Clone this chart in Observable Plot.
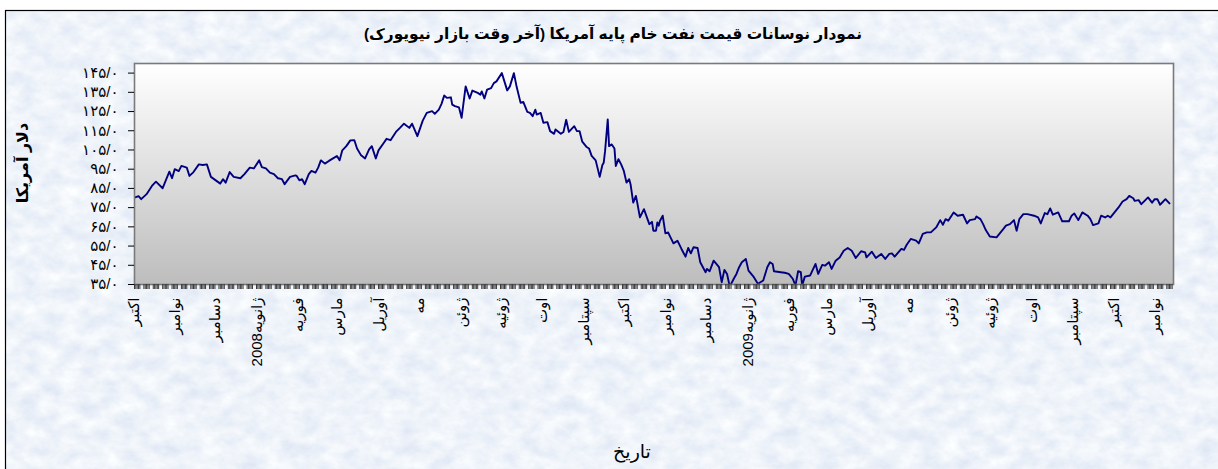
<!DOCTYPE html>
<html lang="fa">
<head>
<meta charset="utf-8">
<script src="https://cdn.jsdelivr.net/npm/d3@7"></script>
<script src="https://cdn.jsdelivr.net/npm/@observablehq/plot@0.6"></script>
<style>
  html, body { margin: 0; padding: 0; background: #fff; }
  #chart { position: relative; width: 1218px; height: 469px; overflow: hidden; background: #fff; }
  #chart > svg { position: absolute; left: 0; top: 0; }
  .txt { position: absolute; font-family: "Liberation Sans", "DejaVu Sans", sans-serif; color: #000; white-space: nowrap; direction: rtl; }
</style>
</head>
<body>
<div id="chart"></div>
<script>
// ---------- data ----------
const titleText = "نمودار نوسانات قیمت نفت خام پایه آمریکا (آخر وقت بازار نیویورک)";
const yTitle = "دلار آمریکا";
const xTitle = "تاریخ";

const yTicks = [35, 45, 55, 65, 75, 85, 95, 105, 115, 125, 135, 145];
const yTickLabels = ["۳۵/۰", "۴۵/۰", "۵۵/۰", "۶۵/۰", "۷۵/۰", "۸۵/۰", "۹۵/۰", "۱۰۵/۰", "۱۱۵/۰", "۱۲۵/۰", "۱۳۵/۰", "۱۴۵/۰"];

const monthDates = ["2007-10-01","2007-11-01","2007-12-01","2008-01-01","2008-02-01","2008-03-01","2008-04-01","2008-05-01","2008-06-01","2008-07-01","2008-08-01","2008-09-01","2008-10-01","2008-11-01","2008-12-01","2009-01-01","2009-02-01","2009-03-01","2009-04-01","2009-05-01","2009-06-01","2009-07-01","2009-08-01","2009-09-01","2009-10-01","2009-11-01"];
const monthLabels = ["اکتبر","نوامبر","دسامبر","ژانویه2008","فوریه","مارس","آوریل","مه","ژوئن","ژوئیه","اوت","سپتامبر","اکتبر","نوامبر","دسامبر","ژانویه2009","فوریه","مارس","آوریل","مه","ژوئن","ژوئیه","اوت","سپتامبر","اکتبر","نوامبر"];

const dates = ["2007-10-01","2007-10-04","2007-10-06","2007-10-10","2007-10-14","2007-10-17","2007-10-22","2007-10-27","2007-10-29","2007-10-31",
"2007-11-03","2007-11-05","2007-11-09","2007-11-11","2007-11-14","2007-11-18","2007-11-21","2007-11-24","2007-11-27",
"2007-12-04","2007-12-06","2007-12-08","2007-12-11","2007-12-14","2007-12-19","2007-12-22","2007-12-26","2007-12-29",
"2008-01-02","2008-01-04","2008-01-07","2008-01-10","2008-01-13","2008-01-16","2008-01-19","2008-01-21","2008-01-25","2008-01-29","2008-01-30",
"2008-02-01","2008-02-03","2008-02-05","2008-02-08","2008-02-10","2008-02-13","2008-02-15","2008-02-17","2008-02-20","2008-02-23","2008-02-27","2008-02-29",
"2008-03-02","2008-03-04","2008-03-07","2008-03-10","2008-03-13","2008-03-15","2008-03-18","2008-03-21","2008-03-24","2008-03-26","2008-03-29","2008-03-31",
"2008-04-04","2008-04-06","2008-04-09","2008-04-13","2008-04-16","2008-04-19","2008-04-23","2008-04-25","2008-04-29",
"2008-05-03","2008-05-06","2008-05-10","2008-05-12","2008-05-15","2008-05-17","2008-05-19","2008-05-21","2008-05-24","2008-05-25","2008-05-27","2008-05-30",
"2008-06-01","2008-06-04","2008-06-07","2008-06-09","2008-06-13","2008-06-15","2008-06-16","2008-06-18","2008-06-20","2008-06-23","2008-06-25","2008-06-27",
"2008-07-01","2008-07-05","2008-07-07","2008-07-10","2008-07-12","2008-07-15","2008-07-17","2008-07-20","2008-07-22","2008-07-24","2008-07-26","2008-07-27","2008-07-30",
"2008-08-01","2008-08-04","2008-08-06","2008-08-09","2008-08-10","2008-08-14","2008-08-16","2008-08-18","2008-08-20","2008-08-24","2008-08-26","2008-08-28","2008-08-30",
"2008-09-02","2008-09-04","2008-09-06","2008-09-09","2008-09-12","2008-09-14","2008-09-15","2008-09-16","2008-09-18","2008-09-19","2008-09-21","2008-09-23","2008-09-24","2008-09-26","2008-09-28","2008-09-30",
"2008-10-02","2008-10-04","2008-10-05","2008-10-07","2008-10-09","2008-10-10","2008-10-12","2008-10-15","2008-10-19","2008-10-21","2008-10-22","2008-10-24","2008-10-25","2008-10-26","2008-10-27","2008-10-29","2008-10-31",
"2008-11-02","2008-11-06","2008-11-09","2008-11-12","2008-11-15","2008-11-17","2008-11-19","2008-11-21","2008-11-24","2008-11-26","2008-11-30",
"2008-12-01","2008-12-03","2008-12-06","2008-12-10","2008-12-12","2008-12-14","2008-12-16","2008-12-18","2008-12-21","2008-12-23","2008-12-25","2008-12-27","2008-12-30",
"2009-01-01","2009-01-05","2009-01-08","2009-01-12","2009-01-15","2009-01-17","2009-01-19","2009-01-20","2009-01-25","2009-01-28","2009-01-31",
"2009-02-03","2009-02-05","2009-02-07","2009-02-09","2009-02-10","2009-02-12","2009-02-16","2009-02-20","2009-02-22","2009-02-25","2009-02-27",
"2009-03-02","2009-03-04","2009-03-07","2009-03-10","2009-03-13","2009-03-16","2009-03-19","2009-03-22","2009-03-26","2009-03-29","2009-03-30",
"2009-04-03","2009-04-06","2009-04-10","2009-04-13","2009-04-16","2009-04-18","2009-04-20","2009-04-25","2009-04-27","2009-04-29",
"2009-05-02","2009-05-06","2009-05-08","2009-05-11","2009-05-14","2009-05-17","2009-05-21","2009-05-24","2009-05-26","2009-05-28","2009-05-30",
"2009-06-03","2009-06-06","2009-06-10","2009-06-13","2009-06-15","2009-06-19","2009-06-20","2009-06-23","2009-06-25","2009-06-27","2009-06-30",
"2009-07-05","2009-07-10","2009-07-12","2009-07-15","2009-07-18","2009-07-20","2009-07-22","2009-07-25","2009-07-28",
"2009-08-02","2009-08-05","2009-08-07","2009-08-10","2009-08-12","2009-08-14","2009-08-16","2009-08-20","2009-08-23","2009-08-28","2009-08-30",
"2009-09-01","2009-09-04","2009-09-07","2009-09-11","2009-09-13","2009-09-15","2009-09-19","2009-09-21","2009-09-24","2009-09-26","2009-09-28",
"2009-10-01","2009-10-04","2009-10-07","2009-10-10","2009-10-12","2009-10-15","2009-10-16","2009-10-19","2009-10-21","2009-10-24","2009-10-26","2009-10-29","2009-10-31",
"2009-11-02","2009-11-04","2009-11-08","2009-11-11"];

const prices = [80.2,81,79.4,82,86.3,88.5,85.1,93.7,90.3,95,
94,96.7,95.8,91.5,93.5,97.5,97.2,97.5,91,
87.5,89.8,88,93.5,91,90.3,92.4,95.8,95.4,
99.6,96.1,95.4,93.2,92.4,90.3,89.8,87.2,91,91.8,91.5,
89.2,89.8,87.2,92.4,94.1,93.2,95.8,99.6,97.9,99.3,101,101.9,
99.6,104.8,107,110,110.1,105.8,102.2,100.6,105.3,107,100.6,104.8,
108.8,110.8,110.1,114.4,116.5,118.7,116.5,118.7,112.2,
120.3,124.3,125.2,123.8,126,129,133.3,132.1,132.4,128.6,127.8,127.2,
121.7,138.1,131.8,135.9,134.7,133.8,135.5,131.8,136.4,137.2,139.8,140.7,
145,136,138.1,145,138,129.5,130,124.8,124.3,122.6,126,123.4,124.3,
119.2,119.5,114.8,113.4,115.7,113.4,114.4,120.7,114.4,117.4,114.8,114.8,109.3,
106.7,105.8,101.9,99.6,91,97.2,98.4,104.4,120.9,107,107.9,105.8,96.7,100.2,97.5,94.1,
88,89.8,87.2,77.6,81.1,77.6,69.9,74.2,66.4,67.6,63,63,67.3,65.6,68.2,70.8,61.6,
62.1,56.4,57.8,53.5,49.5,54,51.2,54.4,54,46.6,41.4,
43.1,41.9,47.4,44,36.2,42.6,40.5,33.9,38,40.5,44,46.6,48.3,
42.2,38.8,35.4,37.1,44,46.6,45.7,41.9,41.4,41.1,40.5,
38,34.5,41.9,41.4,34.5,39.1,39.7,45.7,40.5,45.2,44.8,
46.6,43.1,47.4,49.1,52.6,54,52.6,48.8,52.3,51.7,49.1,
52.1,48.8,50.9,48.3,50.9,51.2,49.5,53.5,53,55.7,
58.7,57.8,56.4,61.3,62.1,62.1,64.7,68.5,66.1,69,68.2,
72.5,70.8,71.3,66.8,68.5,69,70.4,69,66.4,63.3,60,
59.5,63.8,65.6,66.4,68.5,63,69,71.6,71.6,
70.8,69.9,66.8,72.2,71.6,74.6,71.3,72.5,67.9,67.9,70.8,
72,68.5,72.5,70.8,69,65.9,66.8,70.8,69.9,70.8,69.9,
72.5,75.1,78.2,79.4,81.1,79.9,78.5,78.9,76.8,78.9,80.3,77.6,79.4,
79.4,76.5,79.4,77.2];

const xStart = "2007-10-01";
const xEnd = "2009-11-14";

// ---------- build ----------
const series = dates.map((d, i) => ({date: new Date(d), price: prices[i]}));
const months = monthDates.map((d, i) => ({date: new Date(d), label: monthLabels[i]}));
const yLabelOf = new Map(yTicks.map((t, i) => [t, yTickLabels[i]]));
// one small tick per trading day (weekday) along the category axis
const dayTicks = d3.utcDay.range(new Date(xStart), new Date(xEnd)).filter(d => d.getUTCDay() !== 0 && d.getUTCDay() !== 6);

const chart = document.getElementById("chart");

// textured background with black border
const bg = d3.create("svg").attr("width", 1218).attr("height", 469);
const f = bg.append("defs").append("filter").attr("id", "paper").attr("x", 0).attr("y", 0).attr("width", "100%").attr("height", "100%");
f.append("feTurbulence").attr("type", "fractalNoise").attr("baseFrequency", "0.05 0.07").attr("numOctaves", 4).attr("seed", 7).attr("result", "n");
f.append("feColorMatrix").attr("in", "n").attr("type", "matrix")
  .attr("values", "0.32 0 0 0 0.70  0.26 0 0 0 0.77  0.12 0 0 0 0.895  0 0 0 0 1");
bg.append("rect").attr("x", 5).attr("y", 10).attr("width", 1218).attr("height", 470).attr("filter", "url(#paper)");
bg.append("rect").attr("x", 5.5).attr("y", 10.5).attr("width", 1218).attr("height", 470).attr("fill", "none").attr("stroke", "#000").attr("stroke-width", 1.2);
chart.appendChild(bg.node());

const font = "'Liberation Sans', 'DejaVu Sans', sans-serif";

const plot = Plot.plot({
  width: 1218,
  height: 469,
  marginLeft: 134,
  marginRight: 45,
  marginTop: 63,
  marginBottom: 185,
  style: {background: "transparent", fontFamily: font, color: "#000", overflow: "visible"},
  x: {type: "utc", domain: [new Date(xStart), new Date(xEnd)]},
  y: {domain: [35, 150]},
  marks: [
    Plot.frame({fill: "url(#plotbg)", stroke: "none"}),
    Plot.line(series, {x: "date", y: "price", stroke: "#000080", strokeWidth: 1.9, clip: true}),
    Plot.frame({stroke: "#7a7a7a", strokeWidth: 1.6}),
    Plot.axisY({ticks: yTicks, tickSize: 6, tickPadding: 10, tickFormat: d => yLabelOf.get(d), fontSize: 15, stroke: "#000", label: null}),
    Plot.axisX({ticks: dayTicks, tickSize: 5, tickFormat: () => "", stroke: "#3a3a3a", strokeWidth: 1, label: null}),
    Plot.text(months, {x: "date", text: "label", frameAnchor: "bottom", dy: 13, dx: 4, rotate: -90, textAnchor: "end", fontSize: 15, fill: "#000"})
  ]
});

const defs = document.createElementNS("http://www.w3.org/2000/svg", "defs");
defs.innerHTML = '<linearGradient id="plotbg" x1="0" y1="0" x2="0" y2="1"><stop offset="0" stop-color="#ffffff"/><stop offset="1" stop-color="#bdbdbd"/></linearGradient>';
plot.insertBefore(defs, plot.firstChild);
chart.appendChild(plot);

function addText(text, css) {
  const el = document.createElement("div");
  el.className = "txt";
  el.textContent = text;
  Object.assign(el.style, css);
  chart.appendChild(el);
  return el;
}
addText(titleText, {left: "0px", width: "1226px", top: "25px", textAlign: "center", fontWeight: "bold", fontSize: "15.4px"});
addText(xTitle, {left: "0px", width: "1264px", top: "440px", textAlign: "center", fontSize: "19px"});
addText(yTitle, {left: "22px", top: "163px", fontWeight: "bold", fontSize: "16px", transform: "translate(-50%,-50%) rotate(-90deg)"});
</script>
</body>
</html>
